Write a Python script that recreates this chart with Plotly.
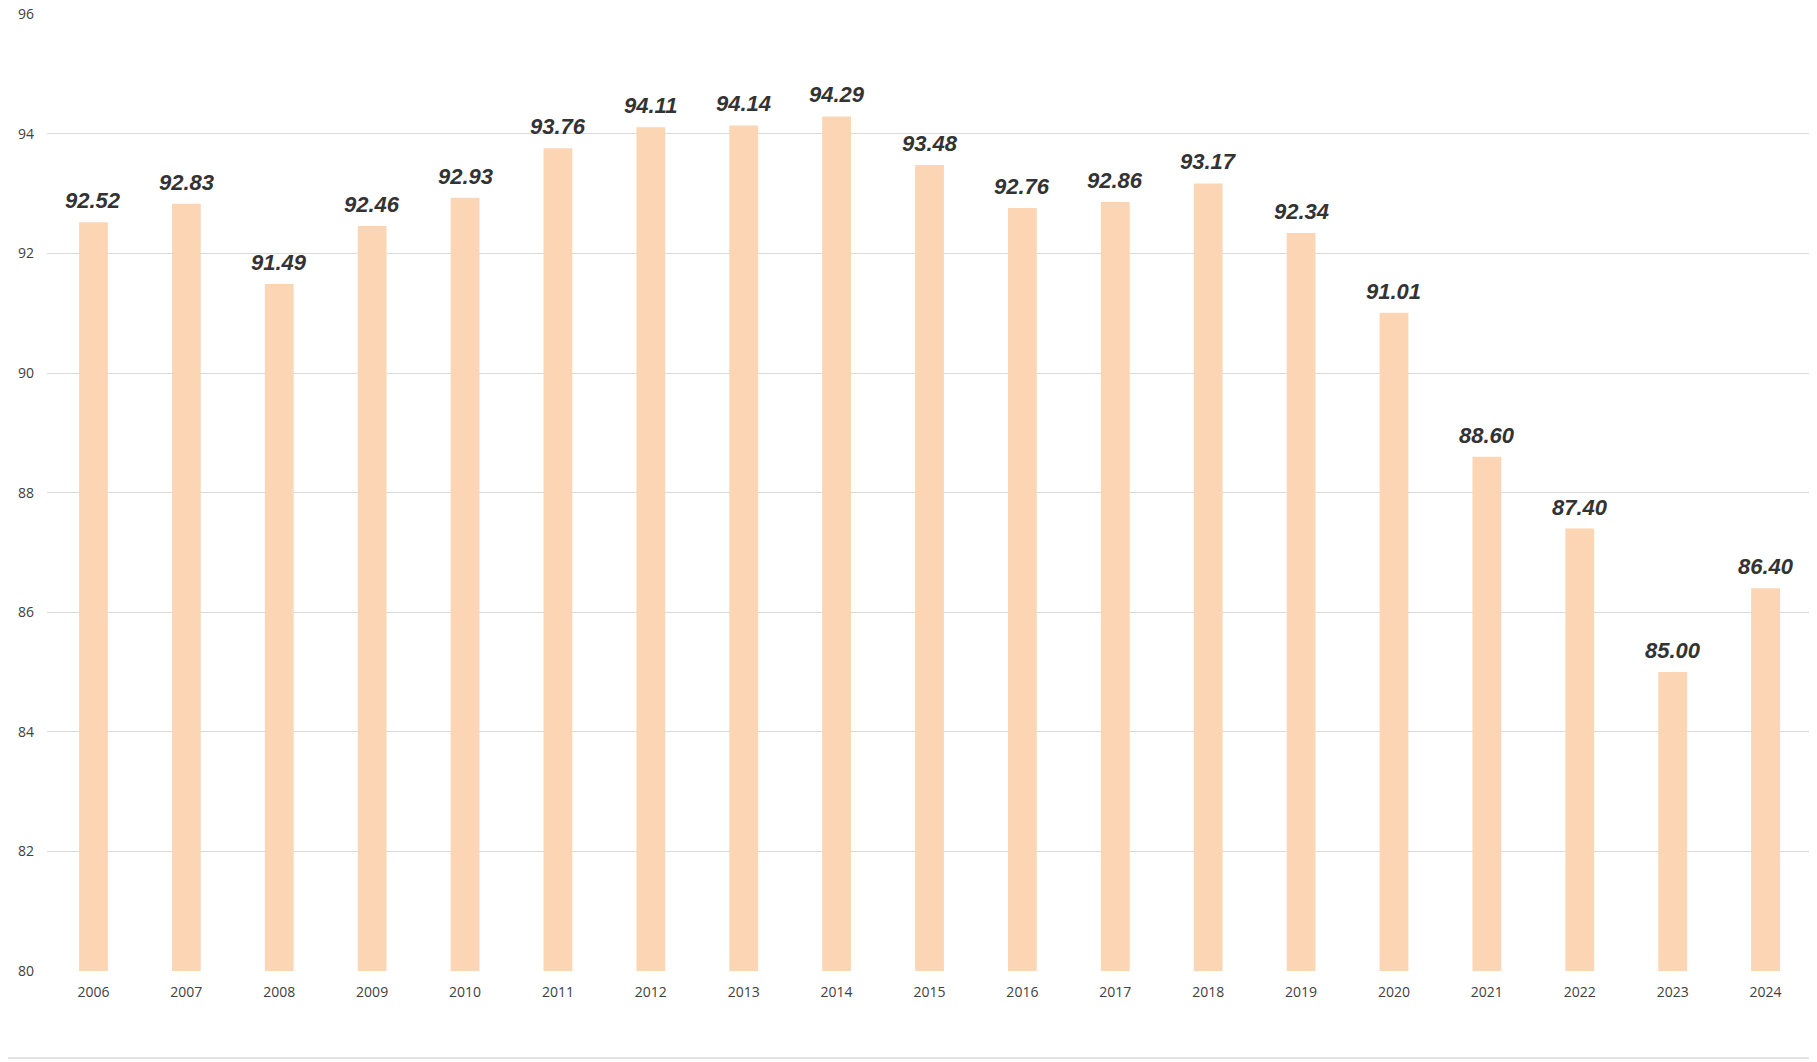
import plotly.graph_objects as go

years = list(range(2006, 2025))
values = [92.52, 92.83, 91.49, 92.46, 92.93, 93.76, 94.11, 94.14, 94.29, 93.48,
          92.76, 92.86, 93.17, 92.34, 91.01, 88.60, 87.40, 85.00, 86.40]
labels = [f"{v:.2f}" for v in values]

fig = go.Figure()
fig.add_trace(go.Bar(
    x=years, y=values,
    marker=dict(color="#FCD5B4", line=dict(width=0)),
    hoverinfo="x+y",
))

for yr, v, lab in zip(years, values, labels):
    fig.add_annotation(
        x=yr, y=v, xref="x", yref="y", text=lab, showarrow=False,
        yanchor="bottom", yshift=7,
        font=dict(family="Liberation Sans, Arial", size=22, color="#333333",
                  weight="bold", style="italic"),
    )

fig.update_layout(
    width=1809, height=1054,
    margin=dict(l=39, r=5, t=6, b=91, autoexpand=False),
    paper_bgcolor="white", plot_bgcolor="white",
    bargap=0.69,
    showlegend=False,
    xaxis=dict(type="linear", range=[years[0] - 0.5, years[-1] + 0.5],
               tickmode="linear", tick0=years[0], dtick=1, automargin=False,
               showgrid=False, showline=False, zeroline=False, ticks="",
               ticklabelstandoff=11,
               tickfont=dict(family="Open Sans", size=14, color="#404040")),
    yaxis=dict(range=[80, 96.004], tickvals=[80, 82, 84, 86, 88, 90, 92, 94, 96],
               showgrid=True, gridcolor="#D9D9D9", automargin=False,
               gridwidth=1, zeroline=False, showline=False, ticks="",
               ticklabelstandoff=12, ticklabeloverflow="allow",
               tickfont=dict(family="Open Sans", size=14, color="#404040")),
    shapes=[dict(type="line", xref="paper", yref="paper", layer="above",
                 x0=-39/1765, x1=1770/1765, y0=-87/957, y1=-87/957,
                 line=dict(color="#D9D9D9", width=1.5))],
)

fig.write_html("out.html")
